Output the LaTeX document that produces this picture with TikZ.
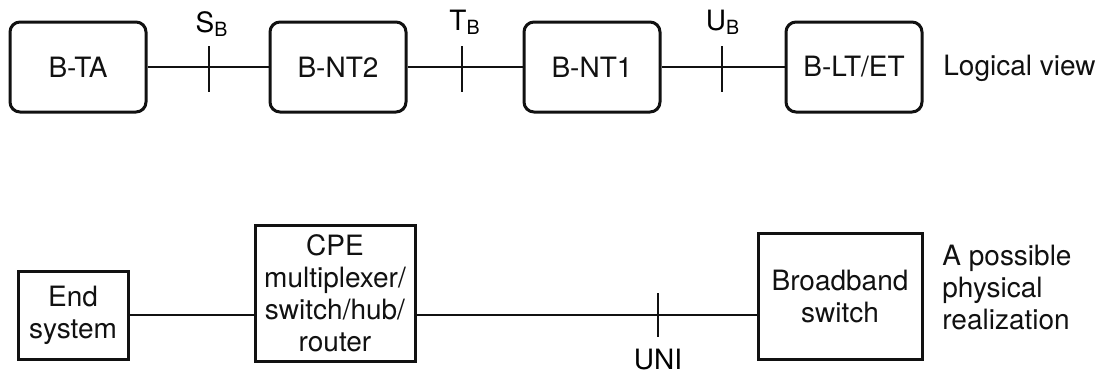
\documentclass[tikz,border=0pt]{standalone}
\usepackage{fontspec}
\setmainfont{TeX Gyre Heros}
\usetikzlibrary{positioning, calc}
\definecolor{inkline}{HTML}{111111}
\newcommand{\refpt}[2]{#1\textsubscript{#2}}

\tikzset{
  logicbox/.style={draw=inkline, line width=1.5pt, rounded corners=5pt,
    minimum width=68pt, minimum height=45pt, inner sep=0pt, text=inkline},
  physbox/.style={draw=inkline, line width=1.5pt, align=center, inner sep=0pt, text=inkline},
  linkline/.style={draw=inkline, line width=1.4pt},
  tickmark/.style={draw=inkline, line width=1.3pt},
  sidenote/.style={align=left, anchor=west, inner sep=0pt, text=inkline}
}

\begin{document}
\begin{tikzpicture}[x=0.5pt, y=-0.5pt, font=\fontsize{14}{16}\selectfont]
  \useasboundingbox (0,0) rectangle (1100,376);

  % logical view
  \node[logicbox] (bta)  at (78,67)  {B-TA};
  \node[logicbox] (bnt2) at (338,67) {B-NT2};
  \node[logicbox] (bnt1) at (592,67) {B-NT1};
  \node[logicbox] (blt)  at (854,67) {B-LT/ET};
  \node[sidenote] (logic) at (943,68) {Logical view};

  \draw[linkline] (bta) -- (bnt2);
  \draw[linkline] (bnt2) -- (bnt1);
  \draw[linkline] (bnt1) -- (blt);

  \coordinate (sb) at (209,67);
  \coordinate (tb) at (462,67);
  \coordinate (ub) at (722,67);
  \foreach \c in {sb,tb,ub}
    \draw[tickmark] ($(\c)+(0,-21)$) -- ($(\c)+(0,25)$);
  \node (sblabel) at (212,24) {\refpt{S}{B}};
  \node (tblabel) at (465,22) {\refpt{T}{B}};
  \node (ublabel) at (723,22) {\refpt{U}{B}};

  % physical realization
  \node[physbox, minimum width=55pt, minimum height=44pt] (endsys) at (73,315) {End\\system};
  \node[physbox, minimum width=80pt, minimum height=68pt] (cpe) at (335,293)
    {CPE\\multiplexer/\\switch/hub/\\router};
  \node[physbox, minimum width=82pt, minimum height=63pt] (bbsw) at (840,296) {Broadband\\switch};
  \node[sidenote] (realize) at (942,287) {A possible\\physical\\realization};

  \draw[linkline] (endsys.east) -- (endsys.east -| cpe.west);
  \draw[linkline] (endsys.east -| cpe.east) -- (endsys.east -| bbsw.west);

  \coordinate (uni) at (658,315);
  \draw[tickmark] ($(uni)+(0,-22)$) -- ($(uni)+(0,22)$);
  \node (unilabel) at (658,360) {UNI};
\end{tikzpicture}
\end{document}
